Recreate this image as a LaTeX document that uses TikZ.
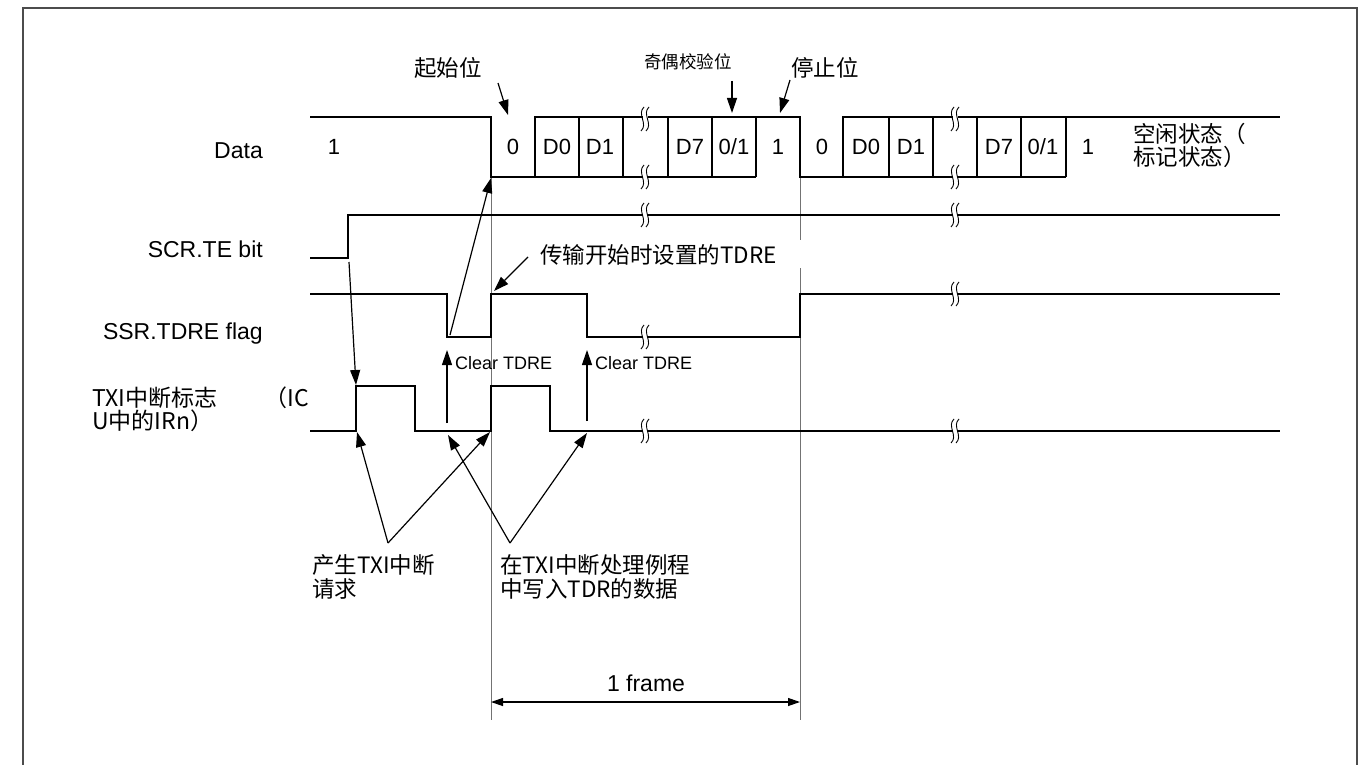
\documentclass[tikz,border=0pt]{standalone}
\usepackage{fontspec}
\setmainfont{Liberation Sans}
\newfontfamily\cjk{Noto Sans CJK SC}
\usetikzlibrary{arrows.meta}
\newcommand\brkmk[2]{%
  \fill[white] ({#1-2.5},{#2-3}) rectangle ({#1+2.5},{#2+3});
  \foreach \cc in {-2.5,2.5}{%
    \draw[line width=0.9pt] ({#1+\cc+1.5},{#2-12}) .. controls ({#1+\cc-6},{#2-5}) and ({#1+\cc+6},{#2+5}) .. ({#1+\cc-1.5},{#2+12});
  }%
}
\begin{document}
\begin{tikzpicture}[x=1pt,y=-1pt,
  sig/.style={line width=1.7pt, line join=miter},
  guide/.style={line width=1pt, draw=black!55},
  frm/.style={line width=1.4pt, draw=black!70},
  arr/.style={line width=1.2pt, -{Triangle[length=15pt,width=10pt]}},
  dim/.style={line width=1.2pt, {Triangle[length=12pt,width=8pt]}-{Triangle[length=12pt,width=8pt]}},
  lbl/.style={font=\fontsize{23}{26}\selectfont, inner sep=0pt},
  bitl/.style={font=\fontsize{22}{24}\selectfont, inner sep=0pt},
  small/.style={font=\fontsize{18}{20}\selectfont, inner sep=0pt},
  cn/.style={font=\cjk\fontsize{22.5}{24}\selectfont, inner sep=0pt},
  cnsmall/.style={font=\cjk\fontsize{17.5}{20}\selectfont, inner sep=0pt}]
\useasboundingbox (0,0) rectangle (1367,765);
\fill[white] (0,0) rectangle (1367,765);
% frame
\draw[frm] (23,765) -- (23,8) -- (1357,8) -- (1357,765);

% guide lines
\draw[guide] (491,177) -- (491,720);
\draw[guide] (800,177) -- (800,240);
\draw[guide] (800,268) -- (800,720);

% ---------- Data ----------
\draw[sig] (310,117) -- (491,117) -- (491,177) -- (756,177);
\draw[sig] (535,177) -- (535,117) -- (800,117) -- (800,177) -- (1066,177);
\draw[sig] (843,177) -- (843,117) -- (1280,117);
\foreach \x in {579,623,668,712,756,889,933,977,1021,1066}
  \draw[sig] (\x,117) -- (\x,177);
\brkmk{645}{119}\brkmk{645}{177}\brkmk{955}{119}\brkmk{955}{177}

\node[lbl, anchor=base east] (dataL) at (263,158) {Data};
\node[bitl] (b1) at (334,147) {1};
\node[bitl] (b2) at (513,147) {0};
\node[bitl] (b3) at (557,147) {D0};
\node[bitl] (b4) at (600,147) {D1};
\node[bitl] (b5) at (690,147) {D7};
\node[bitl] (b6) at (734,147) {0/1};
\node[bitl] (b7) at (778,147) {1};
\node[bitl] (b8) at (822,147) {0};
\node[bitl] (b9) at (866,147) {D0};
\node[bitl] (b10) at (911,147) {D1};
\node[bitl] (b11) at (999,147) {D7};
\node[bitl] (b12) at (1043,147) {0/1};
\node[bitl] (b13) at (1088,147) {1};
\node[cn, anchor=west] (idle1) at (1133,134) {空闲状态（};
\node[cn, anchor=west] (idle2) at (1133,157) {标记状态）};

% top labels
\node[cn] (startL) at (448,68) {起始位};
\node[cnsmall] (parL) at (688,62) {奇偶校验位};
\node[cn] (stopL) at (825,68) {停止位};
\coordinate (startA) at (498,83);  \coordinate (startB) at (508,115);
\coordinate (parA) at (732,81);    \coordinate (parB) at (732,113);
\coordinate (stopA) at (790,80);   \coordinate (stopB) at (780,113);
\draw[arr] (startA) -- (startB);
\draw[arr] (parA) -- (parB);
\draw[arr] (stopA) -- (stopB);

% ---------- SCR.TE ----------
\node[lbl, anchor=base east] (teL) at (263,257) {SCR.TE bit};
\draw[sig] (310,258) -- (348,258) -- (348,215) -- (1280,215);
\brkmk{645}{215}\brkmk{955}{215}

% ---------- SSR.TDRE ----------
\node[lbl, anchor=base east] (tdreL) at (263,339) {SSR.TDRE flag};
\draw[sig] (310,294) -- (447,294) -- (447,337) -- (491,337) -- (491,294) -- (587,294) -- (587,337) -- (800,337) -- (800,294) -- (1280,294);
\brkmk{645}{337}\brkmk{955}{294}

% ---------- TXI ----------
\node[cn, anchor=west, font=\cjk\fontsize{23}{24}\selectfont] (txiL1) at (92,398) {TXI中断标志};
\node[cn, anchor=east, font=\cjk\fontsize{23}{24}\selectfont] (txiL2) at (309,398) {（IC};
\node[cn, anchor=west, font=\cjk\fontsize{23}{24}\selectfont] (txiL3) at (92,421) {U中的IRn）};
\draw[sig] (310,431) -- (356,431) -- (356,386) -- (415,386) -- (415,431) -- (491,431) -- (491,386) -- (550,386) -- (550,431) -- (1280,431);
\brkmk{645}{431}\brkmk{955}{431}

% ---------- arrows ----------
\coordinate (teRise) at (349,262);  \coordinate (txiRise1) at (356,385);
\draw[arr] (teRise) -- (txiRise1);
\coordinate (tdreLow) at (450,335); \coordinate (dataFall) at (491,178);
\draw[arr] (tdreLow) -- (dataFall);

\node[cn, anchor=west] (setL) at (540,255) {传输开始时设置的TDRE};
\coordinate (setA) at (528,257); \coordinate (setB) at (494,291);
\draw[arr] (setA) -- (setB);

\coordinate (clr1A) at (447,423); \coordinate (clr1B) at (447,350);
\coordinate (clr2A) at (587,421); \coordinate (clr2B) at (587,350);
\draw[arr] (clr1A) -- (clr1B);
\draw[arr] (clr2A) -- (clr2B);
\node[small, anchor=west] (clrL1) at (455,363) {Clear TDRE};
\node[small, anchor=west] (clrL2) at (595,363) {Clear TDRE};

\coordinate (apex1) at (388,543);
\coordinate (apex2) at (510,543);
\coordinate (t1) at (357,432); \coordinate (t2) at (490,432);
\coordinate (t3) at (448,435); \coordinate (t4) at (587,433);
\draw[arr] (apex1) -- (t1);
\draw[arr] (apex1) -- (t2);
\draw[arr] (apex2) -- (t3);
\draw[arr] (apex2) -- (t4);

\node[cn, anchor=west] (reqL1) at (312,565) {产生TXI中断};
\node[cn, anchor=west] (reqL2) at (312,589) {请求};
\node[cn, anchor=west] (wrL1) at (500,565) {在TXI中断处理例程};
\node[cn, anchor=west] (wrL2) at (500,589) {中写入TDR的数据};

% ---------- 1 frame ----------
\coordinate (fA) at (491,702); \coordinate (fB) at (800,702);
\draw[dim] (fA) -- (fB);
\node[lbl] (frameL) at (646,683) {1 frame};
\end{tikzpicture}
\end{document}
